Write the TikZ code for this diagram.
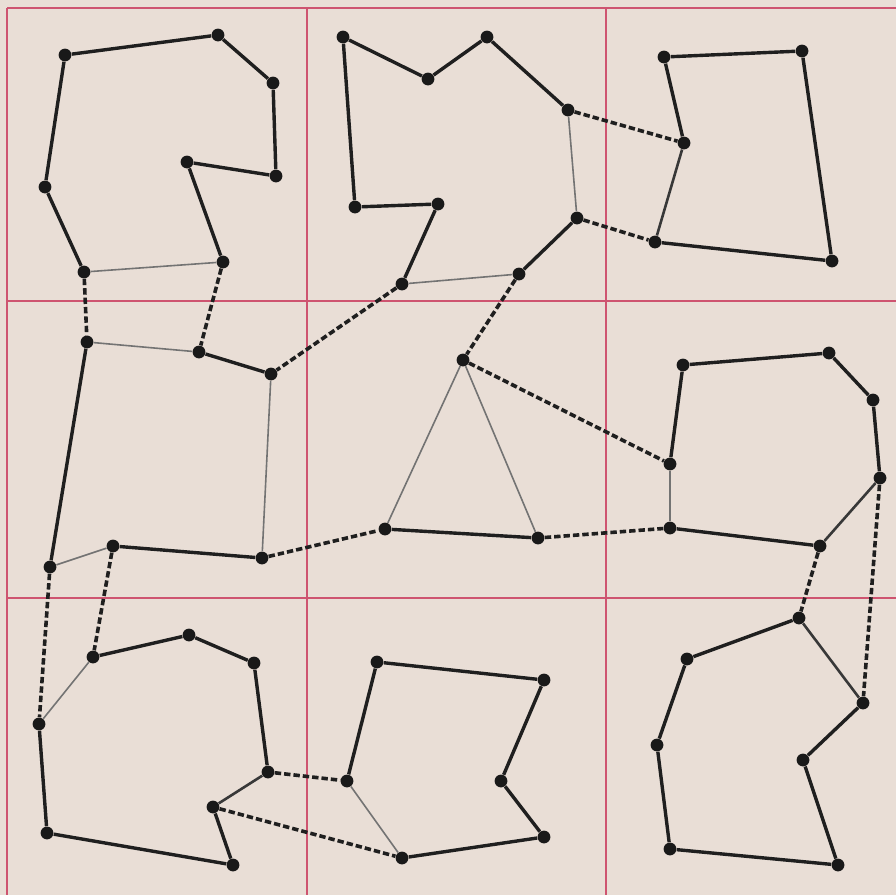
\documentclass[tikz,border=0pt]{standalone}
\begin{document}
\begin{tikzpicture}[x=0.5pt,y=-0.5pt,
  dot/.style={circle,fill=black!90,inner sep=0pt,minimum size=6.4pt},
  thk/.style={draw=black!88,line width=1.7pt},
  med/.style={draw=black!78,line width=1.3pt},
  thn/.style={draw=black!55,line width=0.8pt},
  dsh/.style={draw=black!88,line width=1.8pt,dash pattern=on 3.2pt off 1.5pt},
  gridl/.style={draw={rgb,255:red,206;green,84;blue,112},line width=0.7pt}]
\definecolor{paper}{RGB}{233,222,214}
\fill[paper] (0,0) rectangle (896,895);
\useasboundingbox (0,0) rectangle (896,895);
% grid
\foreach \gx in {7,307,606} \draw[gridl] (\gx,8) -- (\gx,895);
\foreach \gy in {8,301,598} \draw[gridl] (7,\gy) -- (896,\gy);
% cell 1
\node[dot] (A1) at (65,55) {};
\node[dot] (A2) at (218,35) {};
\node[dot] (A3) at (273,83) {};
\node[dot] (A4) at (276,176) {};
\node[dot] (A5) at (187,162) {};
\node[dot] (A6) at (223,262) {};
\node[dot] (A7) at (84,272) {};
\node[dot] (A8) at (45,187) {};
% cell 2
\node[dot] (B1) at (343,37) {};
\node[dot] (B2) at (428,79) {};
\node[dot] (B3) at (487,37) {};
\node[dot] (B4) at (568,110) {};
\node[dot] (B5) at (577,218) {};
\node[dot] (B6) at (519,274) {};
\node[dot] (B7) at (402,284) {};
\node[dot] (B8) at (438,204) {};
\node[dot] (B9) at (355,207) {};
% cell 3
\node[dot] (C1) at (664,57) {};
\node[dot] (C2) at (802,51) {};
\node[dot] (C3) at (832,261) {};
\node[dot] (C4) at (655,242) {};
\node[dot] (C5) at (684,143) {};
% cell 4
\node[dot] (D1) at (87,342) {};
\node[dot] (D2) at (199,352) {};
\node[dot] (D3) at (271,374) {};
\node[dot] (D4) at (262,558) {};
\node[dot] (D5) at (113,546) {};
\node[dot] (D6) at (50,567) {};
% cell 5
\node[dot] (E1) at (463,360) {};
\node[dot] (E2) at (385,529) {};
\node[dot] (E3) at (538,538) {};
% cell 6
\node[dot] (F1) at (683,365) {};
\node[dot] (F2) at (829,353) {};
\node[dot] (F3) at (873,400) {};
\node[dot] (F4) at (880,478) {};
\node[dot] (F5) at (820,546) {};
\node[dot] (F6) at (670,528) {};
\node[dot] (F7) at (670,464) {};
% cell 7
\node[dot] (G1) at (93,657) {};
\node[dot] (G2) at (189,635) {};
\node[dot] (G3) at (254,663) {};
\node[dot] (G4) at (268,772) {};
\node[dot] (G5) at (213,807) {};
\node[dot] (G6) at (233,865) {};
\node[dot] (G7) at (47,833) {};
\node[dot] (G8) at (39,724) {};
% cell 8
\node[dot] (H1) at (377,662) {};
\node[dot] (H2) at (544,680) {};
\node[dot] (H3) at (501,781) {};
\node[dot] (H4) at (544,837) {};
\node[dot] (H5) at (402,858) {};
\node[dot] (H6) at (347,781) {};
% cell 9
\node[dot] (I1) at (799,618) {};
\node[dot] (I2) at (863,703) {};
\node[dot] (I3) at (803,760) {};
\node[dot] (I4) at (838,865) {};
\node[dot] (I5) at (670,849) {};
\node[dot] (I6) at (657,745) {};
\node[dot] (I7) at (687,659) {};
% polygon edges
\draw[thk] (A1) -- (A2) -- (A3) -- (A4) -- (A5) -- (A6);
\draw[thn] (A6) -- (A7);
\draw[thk] (A7) -- (A8) -- (A1);
\draw[thk] (B1) -- (B2) -- (B3) -- (B4);
\draw[thn] (B4) -- (B5);
\draw[thk] (B5) -- (B6);
\draw[thn] (B6) -- (B7);
\draw[thk] (B7) -- (B8) -- (B9) -- (B1);
\draw[thk] (C1) -- (C2) -- (C3) -- (C4);
\draw[med] (C4) -- (C5);
\draw[thk] (C5) -- (C1);
\draw[thn] (D1) -- (D2);
\draw[thk] (D2) -- (D3);
\draw[thn] (D3) -- (D4);
\draw[thk] (D4) -- (D5);
\draw[thn] (D5) -- (D6);
\draw[thk] (D6) -- (D1);
\draw[thn] (E1) -- (E2);
\draw[thk] (E2) -- (E3);
\draw[thn] (E3) -- (E1);
\draw[thk] (F1) -- (F2) -- (F3) -- (F4);
\draw[med] (F4) -- (F5);
\draw[thk] (F5) -- (F6);
\draw[thn] (F6) -- (F7);
\draw[thk] (F7) -- (F1);
\draw[thk] (G1) -- (G2) -- (G3) -- (G4);
\draw[med] (G4) -- (G5);
\draw[thk] (G5) -- (G6) -- (G7) -- (G8);
\draw[thn] (G8) -- (G1);
\draw[thk] (H1) -- (H2) -- (H3) -- (H4) -- (H5);
\draw[thn] (H5) -- (H6);
\draw[thk] (H6) -- (H1);
\draw[med] (I1) -- (I2);
\draw[thk] (I2) -- (I3) -- (I4) -- (I5) -- (I6) -- (I7) -- (I1);
% dashed links
\draw[dsh] (A7) -- (D1);
\draw[dsh] (A6) -- (D2);
\draw[dsh] (B4) -- (C5);
\draw[dsh] (B5) -- (C4);
\draw[dsh] (B7) -- (D3);
\draw[dsh] (B6) -- (E1);
\draw[dsh] (D4) -- (E2);
\draw[dsh] (D6) -- (G8);
\draw[dsh] (D5) -- (G1);
\draw[dsh] (E1) -- (F7);
\draw[dsh] (E3) -- (F6);
\draw[dsh] (F5) -- (I1);
\draw[dsh] (F4) -- (I2);
\draw[dsh] (G4) -- (H6);
\draw[dsh] (G5) -- (H5);
\end{tikzpicture}
\end{document}
